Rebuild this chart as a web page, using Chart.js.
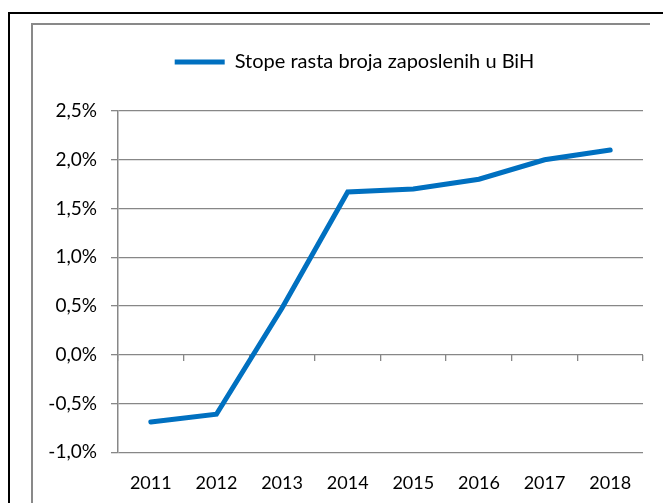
<!DOCTYPE html>
<html>
<head>
<meta charset="utf-8">
<script src="https://cdn.jsdelivr.net/npm/chart.js@4/dist/chart.umd.min.js"></script>
<style>
  html, body { margin: 0; padding: 0; background: #fff; overflow: hidden; }
  #wrap { position: absolute; left: 0; top: 0; width: 663px; height: 503px; }
  #outer { position: absolute; left: 8px; top: 12px; width: 700px; height: 600px; border-left: 2px solid #000; border-top: 2px solid #000; }
  #inner { position: absolute; left: 31px; top: 23px; width: 617px; height: 600px; border-left: 2px solid #898989; border-top: 2px solid #898989; }
  #cv { position: absolute; left: 0; top: 0; }
</style>
</head>
<body>
<div id="outer"></div>
<div id="inner"></div>
<div id="wrap"><canvas id="cv" width="663" height="503"></canvas></div>
<script>
const categories = ['2011', '2012', '2013', '2014', '2015', '2016', '2017', '2018'];
const seriesName = 'Stope rasta broja zaposlenih u BiH';
const seriesValues = [-0.69, -0.61, 0.48, 1.67, 1.70, 1.80, 2.00, 2.10];
const yMin = -1.0, yMax = 2.5, yStep = 0.5;

const FONT = 'Lato, "Open Sans", sans-serif';
const GRID = '#878787';
const PAD_LEFT = 46;

new Chart(document.getElementById('cv'), {
  type: 'line',
  data: {
    labels: categories,
    datasets: [{
      label: seriesName,
      data: seriesValues,
      borderColor: '#0070C0',
      backgroundColor: '#0070C0',
      borderWidth: 5,
      pointRadius: 0,
      pointHoverRadius: 0,
      tension: 0,
      borderCapStyle: 'round',
      fill: false
    }]
  },
  options: {
    responsive: false,
    animation: false,
    devicePixelRatio: 1,
    layout: { padding: { left: PAD_LEFT, right: 0, top: 42, bottom: 0 } },
    plugins: {
      tooltip: { enabled: false },
      legend: {
        display: true,
        position: 'top',
        labels: {
          color: '#000',
          font: { family: FONT, size: 20 },
          boxWidth: 50,
          boxHeight: 5,
          padding: 10,
          generateLabels: (chart) => [{
            text: seriesName,
            fillStyle: '#0070C0',
            strokeStyle: '#0070C0',
            lineWidth: 0,
            datasetIndex: 0
          }]
        }
      }
    },
    scales: {
      x: {
        type: 'category',
        position: 'bottom',
        offset: true,
        grid: { display: false, drawTicks: false },
        border: { display: false },
        ticks: { color: '#000', font: { family: FONT, size: 18 }, padding: 20, maxRotation: 0 },
        afterFit: (s) => { s.height = 50.7; }
      },
      xTopSpace: {
        type: 'category',
        labels: categories,
        position: 'top',
        grid: { display: false, drawTicks: false },
        border: { display: false },
        ticks: { display: false },
        afterFit: (s) => { s.height = 29; }
      },
      x2: {
        type: 'category',
        labels: categories,
        position: { y: 0 },
        offset: true,
        grid: { display: true, offset: true, drawOnChartArea: false, drawTicks: true, tickLength: 6, color: GRID, lineWidth: 1.3 },
        border: { display: false },
        ticks: { display: false }
      },
      y: {
        type: 'linear',
        position: 'left',
        min: yMin,
        max: yMax,
        ticks: {
          stepSize: yStep,
          color: '#000',
          font: { family: FONT, size: 19 },
          padding: 14,
          callback: (v) => v.toFixed(1).replace('.', ',') + '%'
        },
        grid: { color: GRID, lineWidth: 1.3, tickLength: 7, drawTicks: true },
        border: { display: true, color: GRID, width: 1.5 },
        afterFit: (s) => { s.width = 118 - PAD_LEFT; }
      },
      yRightSpace: {
        type: 'linear',
        position: 'right',
        min: yMin,
        max: yMax,
        grid: { display: false, drawTicks: false },
        border: { display: false },
        ticks: { display: false },
        afterFit: (s) => { s.width = 20; }
      }
    }
  }
});
</script>
</body>
</html>
